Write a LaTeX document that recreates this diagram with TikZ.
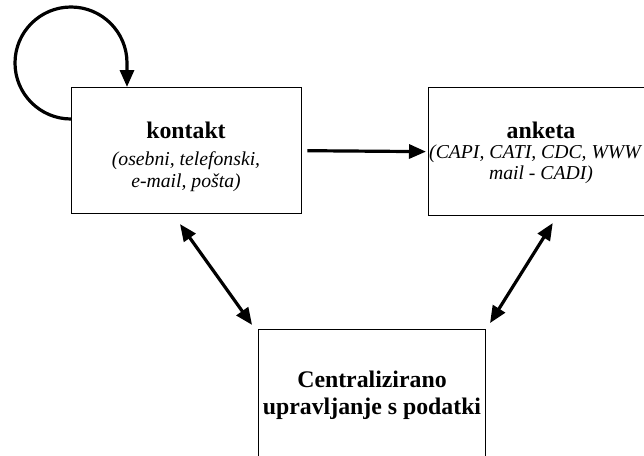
\documentclass[tikz,border=0pt]{standalone}
\usepackage{fontspec}
\setmainfont{Liberation Serif}
\usetikzlibrary{arrows.meta}
\tikzset{
  box/.style={draw, line width=1.3pt, inner sep=0pt, anchor=north west},
  ttl/.style={font=\fontsize{23.8}{26}\selectfont\bfseries, inner sep=0pt, anchor=base},
  sub/.style={font=\fontsize{19.7}{22}\selectfont\itshape, inner sep=0pt, anchor=base},
  link/.style={line width=3.2pt, -{Triangle[length=17pt, width=14pt]}},
  both/.style={line width=3.2pt, {Triangle[length=17pt, width=14pt]}-{Triangle[length=17pt, width=14pt]}},
}

\begin{document}
\begin{tikzpicture}[x=1pt, y=-1pt]
  \useasboundingbox (0,0) rectangle (644,455);
  \clip (0,0) rectangle (644,455);
  % boxes
  \node[box, minimum width=230pt, minimum height=126pt] (kontakt) at (71,87) {};
  \node[box, minimum width=230pt, minimum height=128pt] (anketa) at (428,87) {};
  \node[box, minimum width=227pt, minimum height=140pt] (centr) at (258,329) {};
  % texts
  \node[ttl] (kt) at (186,138) {kontakt};
  \node[sub] (k1) at (186,165) {(osebni, telefonski,};
  \node[sub] (k2) at (186,187) {e-mail, pošta)};
  \node[ttl] (an) at (541,138) {anketa};
  \node[sub, anchor=base west] (a1) at (429,158) {(CAPI, CATI, CDC, WWW};
  \node[sub] (a2) at (541,179) {mail - CADI)};
  \node[ttl] (c1) at (372,387) {Centralizirano};
  \node[ttl] (c2) at (372,414) {upravljanje s podatki};
  % arrows
  \draw[link] ([yshift=-32pt]kontakt.north west)
    arc[start angle=270, end angle=0, radius=56pt]
    -- ([xshift=56pt]kontakt.north west);
  \draw[link, shorten <=5pt, shorten >=2pt] (kontakt.east) -- (anketa.west);
  \draw[both, shorten <=12pt, shorten >=5pt]
    ([xshift=102pt]kontakt.south west) -- ([xshift=-3pt]centr.north west);
  \draw[both, shorten <=8pt, shorten >=7pt]
    ([xshift=129pt]anketa.south west) -- (centr.north east);
\end{tikzpicture}
\end{document}
